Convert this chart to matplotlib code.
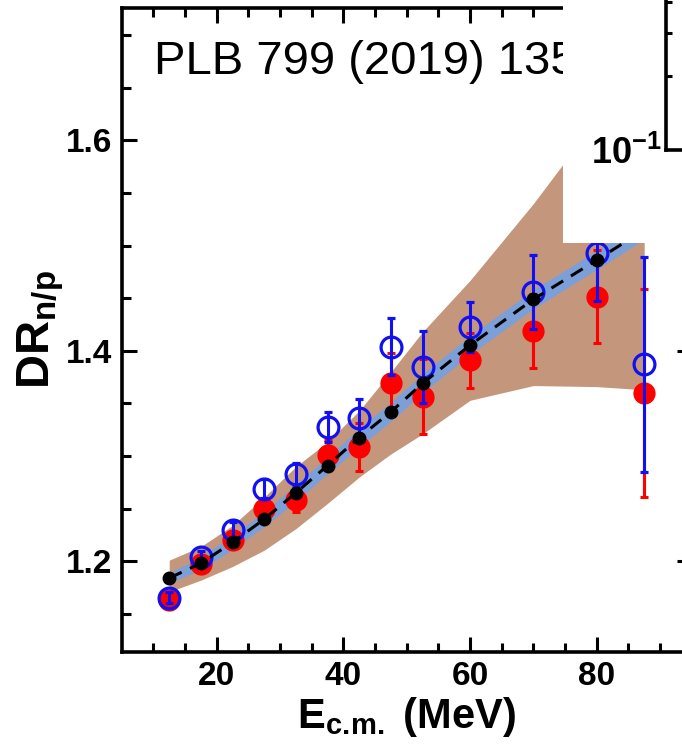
import numpy as np
import matplotlib
matplotlib.use("Agg")
import matplotlib.pyplot as plt
from matplotlib.patches import Rectangle

plt.rcParams['font.family'] = ['Liberation Sans', 'DejaVu Sans']
plt.rcParams['mathtext.fontset'] = 'custom'
plt.rcParams['mathtext.rm'] = 'Liberation Sans'
plt.rcParams['mathtext.bf'] = 'Liberation Sans:bold'

# energies (MeV)
e_cm = [12.5, 17.5, 22.5, 27.5, 32.5, 37.5, 42.5, 47.5, 52.5, 60, 70, 80, 87.5]

# theory: black dots + blue band
theory = [1.184, 1.198, 1.218, 1.240, 1.265, 1.291, 1.3176, 1.342, 1.369, 1.4054, 1.449, 1.4863, 1.515]
theory_hw = [0.005, 0.006, 0.007, 0.007, 0.008, 0.008, 0.009, 0.009, 0.009, 0.009, 0.009, 0.009, 0.009]

# brown band
band_lo = [1.171, 1.182, 1.195, 1.2105, 1.231, 1.255, 1.280, 1.302, 1.321, 1.353, 1.367, 1.366, 1.363]
band_hi = [1.201, 1.214, 1.234, 1.261, 1.290, 1.3135, 1.343, 1.380, 1.418, 1.467, 1.540, 1.620, 1.680]

# open blue circles
blue_val = [1.1655, 1.204, 1.230, 1.269, 1.2825, 1.3277, 1.3357, 1.4038, 1.3848, 1.4228, 1.4561, 1.4926, 1.3873]
blue_err = [0.005, 0.006, 0.007, 0.009, 0.011, 0.014, 0.019, 0.027, 0.034, 0.024, 0.035, 0.045, 0.102]

# filled red circles
red_val = [1.1636, 1.197, 1.220, 1.250, 1.258, 1.3008, 1.3087, 1.369, 1.3563, 1.391, 1.4187, 1.4514, 1.360]
red_err = [0.006, 0.006, 0.007, 0.009, 0.011, 0.014, 0.023, 0.0285, 0.0355, 0.026, 0.035, 0.044, 0.099]

W, H = 682, 745
fig = plt.figure(figsize=(W / 100, H / 100), dpi=100)
ax = fig.add_axes([121.7 / W, 1 - 651.7 / H, (691.7 - 121.7) / W, (651.7 - 7.5) / H])

th = np.array(theory)
hw = np.array(theory_hw)
ax.fill_between(e_cm, band_lo, band_hi, color='#c4977c', lw=0, zorder=1)
ax.fill_between(e_cm, th - hw, th + hw, color='#7c9fd8', lw=0, zorder=2)

ax.errorbar(e_cm, red_val, yerr=red_err, fmt='o', color='#ff0000', ms=15,
            mec='#ff0000', elinewidth=2.2, capsize=3, capthick=2.2, zorder=3)
ax.errorbar(e_cm, blue_val, yerr=blue_err, fmt='o', color='#1010f0', ms=15,
            mfc='none', mec='#1010f0', mew=2.3, elinewidth=2.2, capsize=3,
            capthick=2.2, zorder=4)
ax.plot(e_cm, theory, color='black', lw=2.2, ls=(0, (4.5, 3.0)), zorder=5)
ax.plot(e_cm, theory, 'o', color='black', ms=9, zorder=6)

ax.set_xlim(5, 95)
ax.set_ylim(1.114, 1.7264)
ax.set_xticks([20, 40, 60, 80])
ax.set_xticks(np.arange(10, 95, 5), minor=True)
ax.set_yticks([1.2, 1.4, 1.6])
ax.set_yticks(np.arange(1.15, 1.72, 0.05), minor=True)
ax.set_yticklabels(['1.2', '1.4', '1.6'])
ax.tick_params(which='both', direction='in', top=True, right=True, width=2.2)
ax.tick_params(which='major', length=11, labelsize=24, pad=7)
ax.tick_params(which='minor', length=6.5)
for lab in ax.get_xticklabels() + ax.get_yticklabels():
    lab.set_fontweight('bold')
for sp in ax.spines.values():
    sp.set_linewidth(2.6)

ax.set_xlabel(r'E$_{\mathbf{c.\!m.}}$ (MeV)', fontsize=30, fontweight='bold', labelpad=2)
ax.set_ylabel(r'DR$_{\mathbf{n/p}}$', fontsize=34, fontweight='bold', labelpad=0)

fig.text(154 / W, 1 - 74 / H, 'PLB 799 (2019) 135', fontsize=34,
         va='baseline', ha='left', zorder=10)

# white patch over the upper right corner with a fragment of the next panel
fig.patches.append(Rectangle((563 / W, 1 - 243.3 / H), 1, 1, transform=fig.transFigure,
                             facecolor='white', edgecolor='none', zorder=20))
ins = fig.add_axes([666 / W, 1 - 150 / H, 0.2, 150 / H], zorder=30)
ins.patch.set_alpha(0)
ins.set_yscale('log')
ins.set_ylim(0.1, 0.1 * 10 ** (150 / 245))
ins.set_xticks([])
ins.set_yticks([0.1])
ins.set_yticklabels([r'$\mathbf{10^{-1}}$'])
ins.set_yticks([0.2, 0.3, 0.4], minor=True)
ins.yaxis.set_minor_formatter(plt.NullFormatter())
ins.tick_params(which='both', direction='in', width=2.2, labelsize=26, pad=3)
ins.tick_params(which='major', length=0)
ins.tick_params(which='minor', length=4.5)
ins.spines['top'].set_visible(False)
ins.spines['right'].set_visible(False)
for s in ('left', 'bottom'):
    ins.spines[s].set_linewidth(2.6)

fig.savefig('out.png', dpi=100)
